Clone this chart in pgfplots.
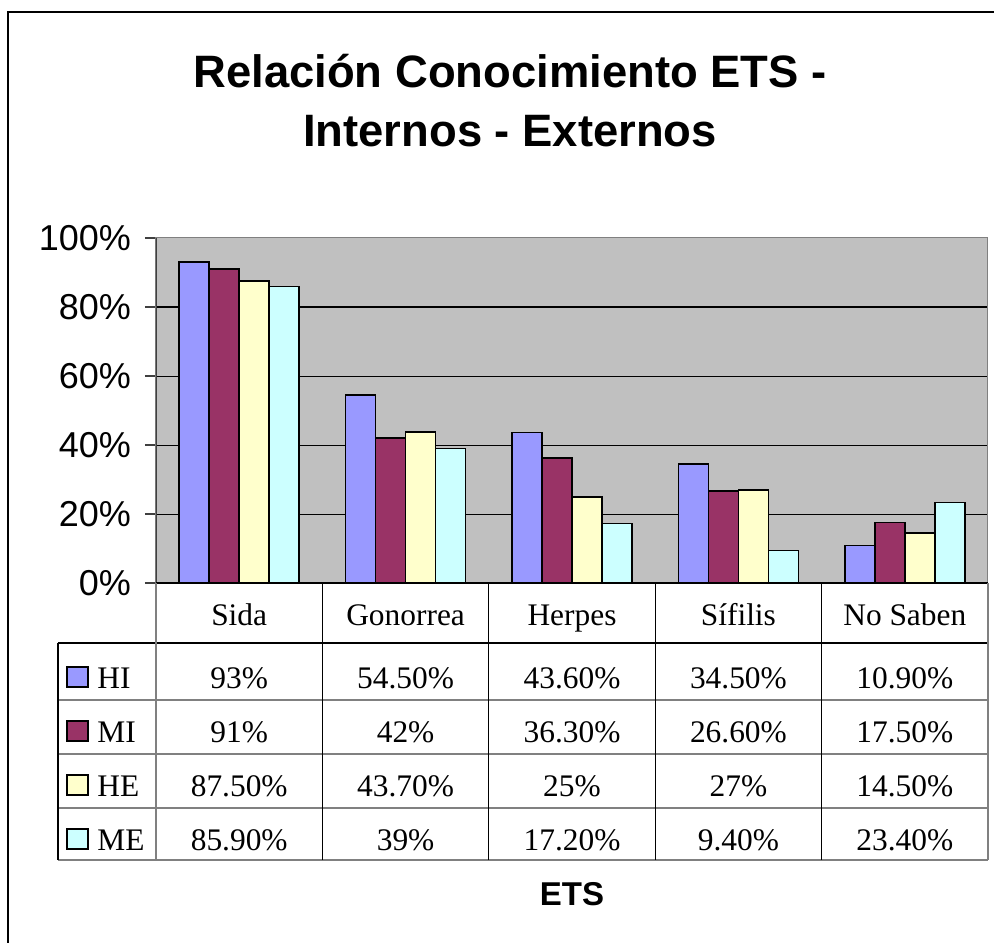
\documentclass[border=0pt]{standalone}
\usepackage{fontspec}
\setmainfont{Liberation Sans}
\newfontfamily\tnr{Liberation Serif}
\usepackage{pgfplots}
\pgfplotsset{compat=1.18}

\definecolor{hi}{HTML}{9999FF}
\definecolor{mi}{HTML}{993366}
\definecolor{he}{HTML}{FFFFCC}
\definecolor{me}{HTML}{CCFFFF}
\definecolor{plotbg}{HTML}{C0C0C0}
\definecolor{border}{HTML}{808080}

\newcommand{\tabfont}{\tnr\fontsize{15.7}{18}\selectfont}

\begin{document}
\begin{tikzpicture}
% page = 994 x 942 px, 1 px = 0.5pt, plot area bottom-left at (0,0)
\useasboundingbox (-78pt,-179.5pt) rectangle (419pt,291.5pt);

\begin{axis}[
    scale only axis,
    width=416pt, height=172.5pt,
    ybar=0pt, bar width=15pt,
    xmin=-0.5, xmax=4.5, ymin=0, ymax=100,
    xtick=\empty,
    ytick={0,20,...,100},
    minor ytick={20,40,60,80},
    yminorgrids,
    minor grid style={black, line width=0.5pt},
    minor tick length=0pt,
    tick align=outside, major tick length=5.5pt,
    ytick pos=left,
    tick style={draw=black!75, line width=0.6pt},
    yticklabel={\pgfmathprintnumber{\tick}\%},
    yticklabel style={font=\fontsize{18}{21}\selectfont, xshift=-3.5pt,
        /pgf/number format/assume math mode=true},
    axis background/.style={fill=plotbg},
    axis line style={draw=border, line width=0.5pt},
    every axis plot/.append style={draw=black, line width=0.75pt},
]
% HI
\addplot[fill=hi] coordinates {(0,93) (1,54.5) (2,43.6) (3,34.5) (4,10.9)};
% MI
\addplot[fill=mi] coordinates {(0,91) (1,42) (2,36.3) (3,26.6) (4,17.5)};
% HE
\addplot[fill=he] coordinates {(0,87.5) (1,43.7) (2,25) (3,27) (4,14.5)};
% ME
\addplot[fill=me] coordinates {(0,85.9) (1,39) (2,17.2) (3,9.4) (4,23.4)};

\draw[black!75, line width=1pt] (rel axis cs:0,0) -- (rel axis cs:0,1);
\draw[black, line width=1pt] (rel axis cs:0,0) -- (rel axis cs:1,0);
\end{axis}

% everything below in reference pixel coordinates
\begin{scope}[x=0.5pt, y=-0.5pt, shift={(-78pt,291.5pt)}]
  % outer frame (right and bottom edges fall off the page)
  \draw[black, line width=0.6pt] (8,960) -- (8,12) -- (1010,12);

  % title
  \node[font=\bfseries\fontsize{22.7}{27}\selectfont, anchor=base] at (510,88) {Relación Conocimiento ETS -};
  \node[font=\bfseries\fontsize{22.7}{27}\selectfont, anchor=base] at (510,147) {Internos - Externos};

  % data table grid
  \draw[black, line width=0.6pt] (58,643) -- (988,643);
  \foreach \yy in {700,754,808,860}
    \draw[border, line width=0.6pt] (58,\yy) -- (988,\yy);
  \draw[black, line width=0.6pt] (58,643) -- (58,860);
  \draw[border, line width=0.6pt] (156,583) -- (156,860);
  \draw[border, line width=0.6pt] (988,583) -- (988,860);
  \foreach \xx in {322.4,488.8,655.2,821.6}
    \draw[black, line width=0.6pt] (\xx,583) -- (\xx,860);

  % category names
  \foreach \cx/\lab in {239.2/Sida, 405.6/Gonorrea, 572/Herpes, 738.4/Sífilis, 904.8/No Saben}
    \node[font=\tabfont, anchor=base] at (\cx,625) {\lab};

  % legend keys
  \foreach \col/\lab/\by in {hi/HI/688, mi/MI/742, he/HE/796, me/ME/850} {
    \filldraw[fill=\col, draw=black, line width=0.75pt] (67,\by-21) rectangle (88,\by-1);
    \node[font=\tabfont, anchor=base west, inner sep=0pt] at (97,\by) {\lab};
  }

  % table values
  \foreach \cx/\a/\b/\c/\d in {
      239.2/93\%/91\%/87.50\%/85.90\%,
      405.6/54.50\%/42\%/43.70\%/39\%,
      572/43.60\%/36.30\%/25\%/17.20\%,
      738.4/34.50\%/26.60\%/27\%/9.40\%,
      904.8/10.90\%/17.50\%/14.50\%/23.40\%} {
    \node[font=\tabfont, anchor=base] at (\cx,688) {\a};
    \node[font=\tabfont, anchor=base] at (\cx,742) {\b};
    \node[font=\tabfont, anchor=base] at (\cx,796) {\c};
    \node[font=\tabfont, anchor=base] at (\cx,850) {\d};
  }

  % axis title
  \node[font=\bfseries\fontsize{16.5}{20}\selectfont, anchor=base] at (572,905) {ETS};
\end{scope}
\end{tikzpicture}
\end{document}
